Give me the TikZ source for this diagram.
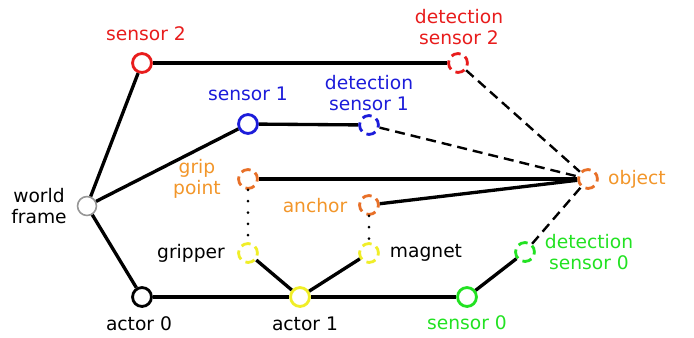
\documentclass[tikz,border=0pt]{standalone}
\usepackage{fontspec}
\setmainfont{DejaVu Sans}
\definecolor{cred}{RGB}{232,28,28}
\definecolor{cblue}{RGB}{28,28,218}
\definecolor{corange}{RGB}{242,150,42}
\definecolor{corangec}{RGB}{232,112,40}
\definecolor{cyellow}{RGB}{240,238,40}
\definecolor{cgreen}{RGB}{34,226,34}
\definecolor{cgray}{RGB}{150,150,150}
\begin{document}
\begin{tikzpicture}[x=0.75pt,y=-0.75pt,
  frame/.style={circle, draw, line width=2.1pt, minimum size=14.2pt, inner sep=0pt, fill=white},
  det/.style={frame, dash pattern=on 7.2pt off 3.9pt, dash phase=2pt},
  link/.style={line width=2.5pt},
  est/.style={line width=1.8pt, dash pattern=on 7.5pt off 4.5pt},
  rigid/.style={line width=2.2pt, dash pattern=on 0pt off 8.5pt, line cap=round},
  lbl/.style={font=\fontsize{14}{15.75}\selectfont, align=center, inner sep=0pt}]
\useasboundingbox (0,0) rectangle (694,337);

% frames
\node[frame, draw=cgray, line width=1.2pt] (world) at (87,206) {};
\node[frame, draw=cred]   (s2)  at (142,63) {};
\node[frame, draw=cblue]  (s1)  at (248,124) {};
\node[det, draw=cred]     (d2)  at (458,63) {};
\node[det, draw=cblue]    (d1)  at (369,125) {};
\node[det, draw=corangec] (obj) at (588,179) {};
\node[det, draw=corangec] (grip) at (248,179) {};
\node[det, draw=corangec] (anc) at (369,205) {};
\node[det, draw=cyellow]  (grp) at (248,253) {};
\node[det, draw=cyellow]  (mag) at (369,253) {};
\node[frame, draw=black]  (a0)  at (142,297) {};
\node[frame, draw=cyellow] (a1) at (300,297) {};
\node[frame, draw=cgreen] (s0)  at (467,297) {};
\node[det, draw=cgreen]   (d0)  at (525,252) {};

% rigid links
\draw[link] (world) -- (s2);
\draw[link] (world) -- (s1);
\draw[link] (world) -- (a0);
\draw[link] (s2) -- (d2);
\draw[link] (s1) -- (d1);
\draw[link] (grip) -- (obj);
\draw[link] (anc) -- (obj);
\draw[link] (a0) -- (a1);
\draw[link] (a1) -- (s0);
\draw[link] (grp) -- (a1);
\draw[link] (mag) -- (a1);
\draw[link] (s0) -- (d0);

% estimated links
\draw[est] (d2) -- (obj);
\draw[est] (d1) -- (obj);
\draw[est] (d0) -- (obj);

% grasp links
\draw[rigid] (grip) -- (grp);
\draw[rigid] (anc) -- (mag);

% labels
\node[lbl, text=cred]  (ls2) at (146,34) {sensor 2};
\node[lbl, text=cred]  (ld2) at (459,27) {detection\\sensor 2};
\node[lbl, text=cblue] (ls1) at (248,94) {sensor 1};
\node[lbl, text=cblue] (ld1) at (369,93) {detection\\sensor 1};
\node[lbl, text=corange] (lgrip) at (197,179) {grip\\point};
\node[lbl] (lworld) at (39,206) {world\\frame};
\node[lbl, text=corange] (lanc) at (315,206) {anchor};
\node[lbl, text=corange] (lobj) at (637,179) {object};
\node[lbl] (lgrp) at (191,253) {gripper};
\node[lbl] (lmag) at (426,253) {magnet};
\node[lbl] (la0) at (139,324) {actor 0};
\node[lbl] (la1) at (305,324) {actor 1};
\node[lbl, text=cgreen] (ls0) at (467,323) {sensor 0};
\node[lbl, text=cgreen] (ld0) at (589,252) {detection\\sensor 0};
\end{tikzpicture}
\end{document}
